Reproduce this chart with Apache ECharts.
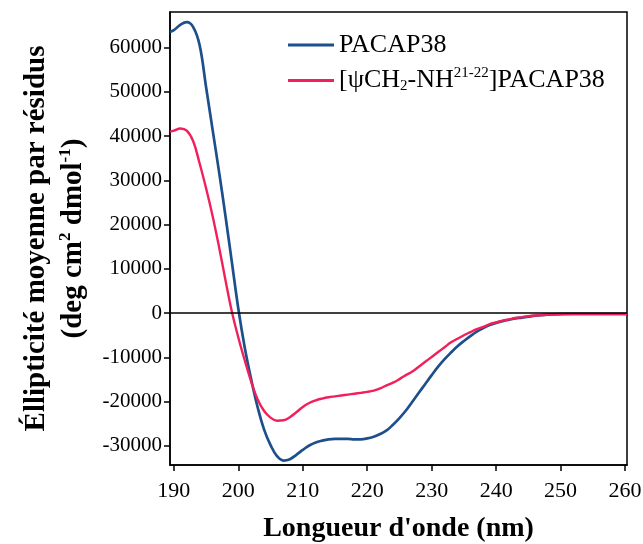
<!DOCTYPE html>
<html><head><meta charset="utf-8">
<script src="https://cdn.jsdelivr.net/npm/echarts@6/dist/echarts.min.js"></script>
<style>html,body{margin:0;padding:0;background:#fff}#c{width:643px;height:544px}</style>
</head><body><div id="c"></div>
<script>
const wavelengths = [189.4,190,191,192,193,194,195,196,197,198,199,200,201,202,203,204,205,206,207,208,209,210,211,212,213,214,215,216,217,218,219,220,221,222,223,224,225,226,227,228,229,230,231,232,233,234,235,236,237,238,239,240,241,242,243,244,245,246,247,248,250,252,255,258,260.3];
const pacap38 = [63500,63900,65100,65700,64600,60500,51000,41500,32000,22000,11500,1000,-7800,-15000,-21300,-26300,-29800,-32300,-33300,-33000,-32000,-30900,-29900,-29200,-28800,-28500,-28400,-28400,-28400,-28500,-28500,-28300,-27900,-27300,-26500,-25200,-23700,-22000,-20000,-18000,-16000,-14000,-12100,-10400,-8900,-7500,-6300,-5200,-4200,-3400,-2700,-2200,-1800,-1500,-1200,-1000,-800,-600,-450,-350,-250,-200,-200,-200,-200];
const analog = [41000,41200,41700,41200,38800,33800,28200,22000,15000,7500,300,-5500,-10700,-15500,-19500,-22100,-23600,-24300,-24200,-23500,-22400,-21200,-20300,-19700,-19300,-19000,-18800,-18600,-18400,-18200,-18000,-17800,-17500,-17000,-16300,-15700,-14900,-14000,-13200,-12100,-11000,-9900,-8800,-7700,-6600,-5800,-5000,-4300,-3600,-3100,-2500,-2100,-1700,-1400,-1100,-900,-700,-550,-450,-350,-250,-200,-200,-200,-200];
const xTicks = [190,200,210,220,230,240,250,260];
const yTicks = [-30000,-20000,-10000,0,10000,20000,30000,40000,50000,60000];
const seriesNames = ['PACAP38','[ψCH2-NH21-22]PACAP38'];

const font = 'Liberation Serif';
const chart = echarts.init(document.getElementById('c'));
chart.setOption({
  animation:false,
  backgroundColor:'#fff',
  grid:{left:170,right:16,top:12,bottom:79,show:true,borderColor:'#000',borderWidth:1.5,backgroundColor:'transparent',outerBoundsMode:'none',containLabel:false},
  legend:{
    orient:'vertical',left:283,top:27,itemGap:8,itemWidth:46,itemHeight:3,
    icon:'rect',
    data:seriesNames,
    textStyle:{fontFamily:font,fontSize:26,color:'#000',
      rich:{t:{fontFamily:font,fontSize:26,color:'#000'},s:{fontFamily:font,fontSize:15,color:'#000',padding:[0,0,14,0]},b:{fontFamily:font,fontSize:15,color:'#000',padding:[12,0,0,0]}}},
    formatter:function(n){
      if(n===seriesNames[0]) return '{t|PACAP38}';
      return '{t|[ψCH}{b|2}{t|-NH}{s|21-22}{t|]PACAP38}';
    }
  },
  xAxis:{
    type:'value',min:189.4,max:260.3,
    name:"Longueur d'onde (nm)",nameLocation:'middle',nameGap:50,
    nameTextStyle:{fontFamily:font,fontSize:28,fontWeight:'bold',color:'#000'},
    axisLine:{onZero:false,lineStyle:{color:'#000',width:1.5}},
    axisTick:{show:true,length:6,lineStyle:{color:'#000',width:1.5},customValues:xTicks},
    axisLabel:{fontFamily:font,fontSize:22,color:'#000',margin:15,customValues:xTicks},
    splitLine:{show:false}
  },
  yAxis:{
    type:'value',min:-34300,max:68000,
    name:'{b|Éllipticité moyenne par résidus}\n{b|(deg cm}{s|2}{b| dmol}{s|-1}{b|)}',
    nameLocation:'middle',nameRotate:90,nameGap:76,
    nameTextStyle:{fontFamily:font,fontSize:29,fontWeight:'bold',color:'#000',lineHeight:37,
      rich:{b:{fontFamily:font,fontSize:29,fontWeight:'bold',color:'#000',lineHeight:37},
            s:{fontFamily:font,fontSize:17,fontWeight:'bold',color:'#000',padding:[0,0,14,0],lineHeight:37}}},
    axisLine:{show:true,onZero:false,lineStyle:{color:'#000',width:1.5}},
    axisTick:{show:true,length:6,lineStyle:{color:'#000',width:1.5},customValues:yTicks},
    axisLabel:{fontFamily:font,fontSize:21,color:'#000',margin:8,customValues:yTicks,formatter:function(v){return String(v);}},
    splitLine:{show:false}
  },
  series:[
    {name:seriesNames[0],type:'line',data:wavelengths.map((w,i)=>[w,pacap38[i]]),smooth:0.4,showSymbol:false,
     lineStyle:{color:'#1d4f8c',width:2.7},itemStyle:{color:'#1d4f8c'},z:3,
     markLine:{silent:true,symbol:['none','none'],label:{show:false},lineStyle:{color:'#000',width:1.5,type:'solid'},data:[{yAxis:0}]}},
    {name:seriesNames[1],type:'line',data:wavelengths.map((w,i)=>[w,analog[i]]),smooth:0.4,showSymbol:false,
     lineStyle:{color:'#f2205a',width:2.4},itemStyle:{color:'#f2205a'},z:4}
  ]
});
</script></body></html>
